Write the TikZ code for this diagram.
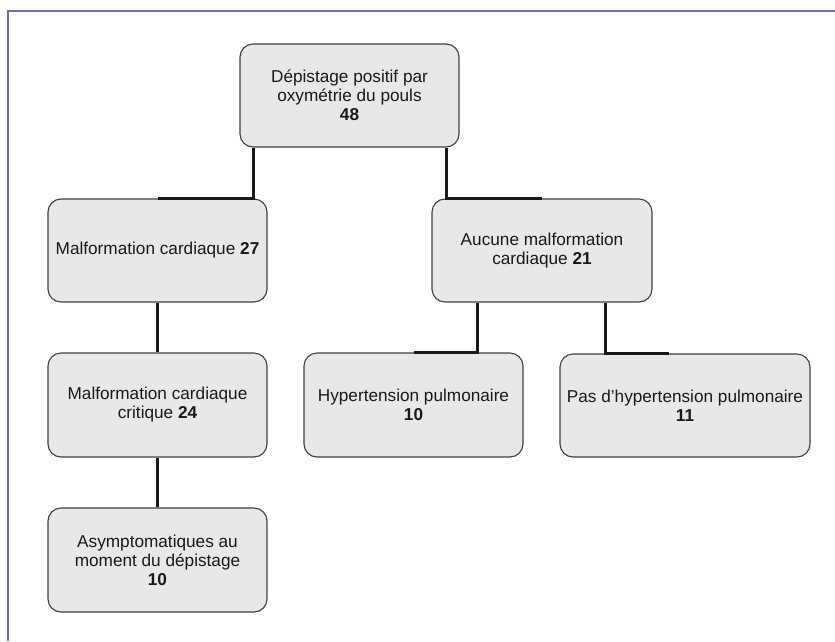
\documentclass[tikz,border=0pt]{standalone}
\usepackage{fontspec}
\setmainfont{Liberation Sans}
\begin{document}
\begin{tikzpicture}[x=1pt,y=-1pt,
  box/.style={draw=black!75,line width=1.1pt,fill=black!9,rounded corners=13pt,
    align=center,inner sep=2pt,font=\fontsize{17.2}{19}\selectfont,text=black!90},
  conn/.style={draw=black!90,line width=2.6pt}]
\useasboundingbox (0,0) rectangle (835,641);
\fill[white] (0,0) rectangle (835,641);
\draw[color={rgb,255:red,110;green,110;blue,160},line width=1.2pt] (8,641) -- (8,11) -- (835,11);
\node[box,minimum width=219pt,minimum height=103pt] (top) at (349.5,95.5)
  {Dépistage positif par\\oxymétrie du pouls\\\textbf{48}};
\node[box,minimum width=219pt,minimum height=103pt] (L1) at (157.5,250.5)
  {Malformation cardiaque \textbf{27}};
\node[box,minimum width=220pt,minimum height=103pt] (R1) at (542,250.5)
  {Aucune malformation\\cardiaque \textbf{21}};
\node[box,minimum width=219pt,minimum height=104pt] (L2) at (157.5,405)
  {Malformation cardiaque\\critique \textbf{24}};
\node[box,minimum width=219pt,minimum height=104pt] (L3) at (157.5,560)
  {Asymptomatiques au\\moment du dépistage\\\textbf{10}};
\node[box,minimum width=219pt,minimum height=104pt] (H) at (413.5,405)
  {Hypertension pulmonaire\\\textbf{10}};
\node[box,minimum width=250pt,minimum height=103pt] (P) at (685,405.5)
  {Pas d’hypertension pulmonaire\\\textbf{11}};
\draw[conn] ([xshift=14pt]top.south west) |- (L1.north);
\draw[conn] ([xshift=-13pt]top.south east) |- (R1.north);
\draw[conn] (L1.south) -- (L2.north);
\draw[conn] (L2.south) -- (L3.north);
\draw[conn] ([xshift=46pt]R1.south west) |- (H.north);
\draw[conn] ([xshift=-47pt]R1.south east) |- ([xshift=-16pt]P.north);
\end{tikzpicture}
\end{document}
